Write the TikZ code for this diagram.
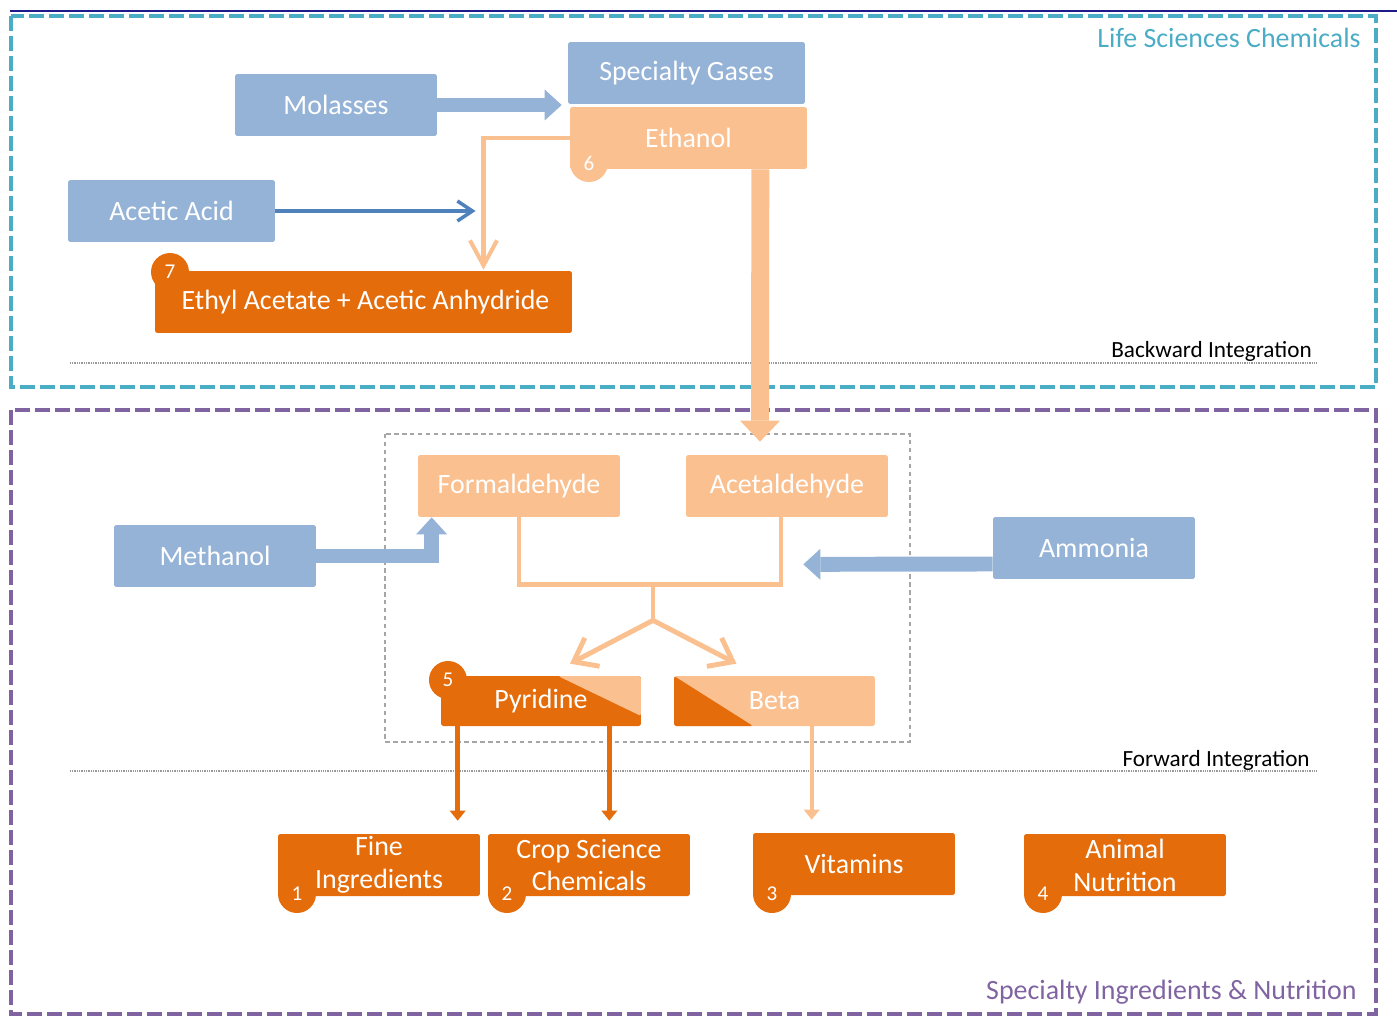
\documentclass[tikz,border=0pt]{standalone}
\usepackage{fontspec}
\setmainfont{Carlito}
\usetikzlibrary{arrows.meta,calc}

\definecolor{boxblue}{HTML}{95B3D7}
\definecolor{linkblue}{HTML}{4F81BD}
\definecolor{paleorange}{HTML}{FAC090}
\definecolor{deeporange}{HTML}{E46C0A}
\definecolor{lifeteal}{HTML}{4BACC6}
\definecolor{nutripurple}{HTML}{8064A2}
\definecolor{exhibitnavy}{HTML}{1F1A8A}

\tikzset{
  box/.style={rectangle, rounded corners=1pt, inner sep=0pt, text=white, align=center,
    minimum width=4.04cm, minimum height=1.24cm, font=\fontsize{15.9}{18.7}\selectfont},
  badge/.style={circle, inner sep=0pt, minimum size=0.76cm, text=white,
    font=\fontsize{12}{12}\selectfont},
  regionbox/.style={line width=2.5pt, dash pattern=on 0.3cm off 0.1cm},
  regionlabel/.style={anchor=east, inner sep=0pt, font=\fontsize{15.9}{18}\selectfont},
  sidelabel/.style={anchor=base east, inner sep=0pt, font=\fontsize{13.2}{15}\selectfont},
  guideline/.style={draw=gray!80, line width=0.6pt, dash pattern=on 0.5pt off 0.5pt},
  fatblue/.style={draw=boxblue, line width=8.5pt,
    -{Triangle[length=0.34cm, width=0.62cm, line width=0pt]}},
  fatorange/.style={draw=paleorange, line width=10.2pt,
    -{Triangle[length=0.42cm, width=0.8cm, line width=0pt]}},
  thinorange/.style={draw=paleorange, line width=2.3pt,
    -{Straight Barb[length=0.5cm, width=0.54cm]}},
  thinblue/.style={draw=linkblue, line width=2pt,
    -{Straight Barb[length=0.3cm, width=0.4cm]}},
  mergeline/.style={draw=paleorange, line width=2.8pt},
  barb/.style={-{Straight Barb[length=0.42cm, width=0.64cm]}},
  dropdark/.style={draw=deeporange, line width=2.8pt, shorten >=0.26cm,
    -{Triangle[length=0.2cm, width=0.32cm, line width=0pt]}},
  droppale/.style={draw=paleorange, line width=2.3pt, shorten >=0.26cm,
    -{Triangle[length=0.2cm, width=0.32cm, line width=0pt]}}
}

\begin{document}
\begin{tikzpicture}[x=0.02cm, y=-0.02cm]
\useasboundingbox (0,0) rectangle (1397,1017);

\draw[exhibitnavy, line width=1.4pt] (10,11) -- (1397,11);
\draw[regionbox, lifeteal] (11,16) rectangle (1376,387);
\draw[regionbox, nutripurple] (11,410) rectangle (1376,1014);
\draw[gray!70, line width=0.8pt, dash pattern=on 2.5pt off 2pt] (385,434) rectangle (910,742);
\draw[guideline] (70,363) -- (1317,363);
\draw[guideline] (70,771) -- (1317,771);

\node[regionlabel, text=lifeteal] (lifesci) at (1361,38) {Life Sciences Chemicals};
\node[regionlabel, text=nutripurple] (nutri) at (1357,992) {Specialty Ingredients \& Nutrition};
\node[sidelabel] (backward) at (1312,357) {Backward Integration};
\node[sidelabel] (forward) at (1310,766) {Forward Integration};

\begin{scope}[every node/.style={box, fill=boxblue}]
  \node[minimum width=4.74cm] (gases) at (686.5,73) {Specialty Gases};
  \node (molasses) at (336,105) {Molasses};
  \node[minimum width=4.14cm] (acetic) at (171.5,211) {Acetic Acid};
  \node (methanol) at (215,556) {Methanol};
  \node (ammonia) at (1094,548) {Ammonia};
\end{scope}

\begin{scope}[every node/.style={box, fill=paleorange}]
  \node[minimum width=4.74cm] (ethanol) at (688.5,138) {Ethanol};
  \node (formal) at (519,486) {Formaldehyde};
  \node (acetal) at (787,486) {Acetaldehyde};
  \node[minimum width=4.02cm, minimum height=1cm,
    path picture={\fill[deeporange] (path picture bounding box.north west)
      -- (path picture bounding box.south west)
      -- ($(path picture bounding box.south west)+(79,0)$) -- cycle;}] (beta) at (774.5,701) {Beta};
\end{scope}

\begin{scope}[every node/.style={box, fill=deeporange}]
  \node[minimum width=8.34cm] (ethyl) at (363.5,302) {\hspace*{0.08cm}Ethyl Acetate + Acetic Anhydride};
  \node[minimum width=4cm, minimum height=1cm,
    path picture={\fill[paleorange] ($(path picture bounding box.north east)+(-83,0)$)
      -- (path picture bounding box.north east)
      -- ($(path picture bounding box.north east)+(0,40)$) -- cycle;}] (pyridine) at (541,701) {Pyridine};
  \node (fine) at (379,865) {Fine\\Ingredients};
  \node (crop) at (589,865) {Crop Science\\Chemicals};
  \node (vitamins) at (854,864) {Vitamins};
  \node (animal) at (1125,865) {Animal\\Nutrition};
\end{scope}

\begin{scope}[every node/.style={badge}]
  \node[fill=paleorange] (n6) at (589,163) {6};
  \node[fill=deeporange] (n7) at (170,272) {7};
  \node[fill=deeporange] (n5) at (448,680) {5};
  \node[fill=deeporange] (n1) at (297,894) {1};
  \node[fill=deeporange] (n2) at (507,894) {2};
  \node[fill=deeporange] (n3) at (772,894) {3};
  \node[fill=deeporange] (n4) at (1043,894) {4};
\end{scope}

\coordinate (ammtip) at ($(acetal.south east)+(-85,47)$);
\coordinate (fork) at ($(formal.south)!.5!(acetal.south)+(0,103)$);
\coordinate (pyl) at ($(pyridine.south west)+(17,0)$);
\coordinate (pyr) at ($(pyridine.south east)+(-32,0)$);
\coordinate (bed) at ($(beta.south west)+(138,0)$);

\draw[fatblue] (molasses.east) -- ($(molasses.east -| gases.west)+(-6,0)$);
\draw[thinorange] (ethanol.west) -| ($(ethyl.north)+(120,-1)$);
\draw[thinblue] (acetic.east) -- ($(acetic.east -| ethyl.north)+(112,0)$);
\draw[fatorange] ($(ethanol.south east)+(-47,0)$) -- ($(acetal.north)+(-27,-13)$);
\draw[fatblue] (methanol.east) -| ($(formal.south west)+(14,0)$);
\draw[fatblue] ($(ammonia.west)+(0,16)$) -- (ammtip);

\draw[mergeline] (formal.south) -- ++(0,67) -| ($(acetal.south)+(-6,0)$);
\draw[mergeline] ($(formal.south)!.5!(acetal.south)+(0,67)$) -- (fork);
\draw[mergeline, barb] (fork) -- ($(pyridine.north)+(29,-12)$);
\draw[mergeline, barb] (fork) -- ($(beta.north)+(-38,-12)$);

\draw[dropdark] (pyl) -- (pyl |- fine.north);
\draw[dropdark] (pyr) -- (pyr |- crop.north);
\draw[droppale] (bed) -- (bed |- vitamins.north);

\end{tikzpicture}
\end{document}
